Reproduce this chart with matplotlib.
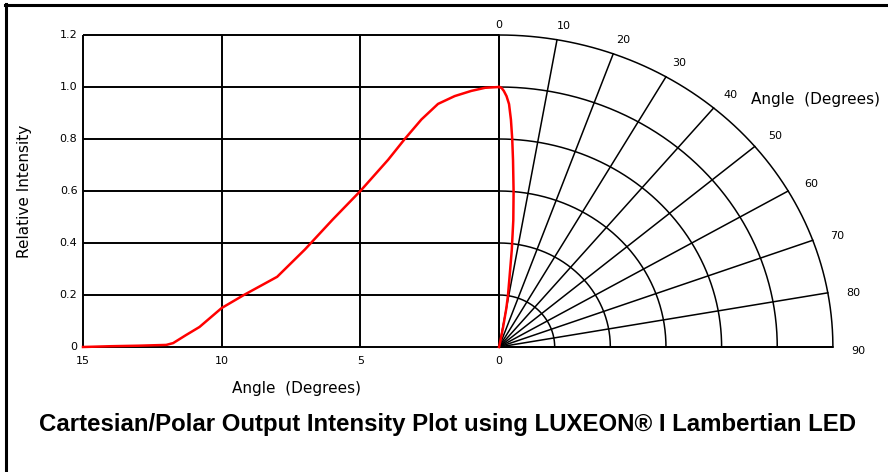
import numpy as np
import matplotlib
matplotlib.use("Agg")
import matplotlib.pyplot as plt
from matplotlib.lines import Line2D

# ---- data ----
angles = [15, 14, 13, 12, 11.75, 11.3, 10.8, 10, 9.2, 8.0, 7.0, 6.0, 5.0, 4.0, 3.4, 2.8, 2.2, 1.6, 1.0, 0.5, 0]
intensity = [0, 0.003, 0.005, 0.008, 0.015, 0.045, 0.077, 0.15, 0.2, 0.27, 0.375, 0.49, 0.6,
             0.72, 0.8, 0.875, 0.935, 0.965, 0.985, 0.997, 1.0]
cart_xticks = [15, 10, 5, 0]
cart_yticks = [0, 0.2, 0.4, 0.6, 0.8, 1.0, 1.2]
cart_ylabels = ["0", "0.2", "0.4", "0.6", "0.8", "1.0", "1.2"]
polar_angles = [0, 10, 20, 30, 40, 50, 60, 70, 80, 90]
polar_radii = [0.2, 0.4, 0.6, 0.8, 1.0, 1.2]
title = "Cartesian/Polar Output Intensity Plot using LUXEON\u00ae I Lambertian LED"

# ---- style ----
W, H = 888, 472
PX = 10.03  # horizontal scale of polar part in x-axis units per unit radius
fig = plt.figure(figsize=(W / 100, H / 100), dpi=100)
ax = fig.add_axes([83 / W, 125 / H, 750 / W, 312 / H])
ax.set_xlim(-15, 12.04)
ax.set_ylim(0, 1.2)
ax.axis("off")

gk = dict(color="black", lw=1.4, solid_capstyle="butt", clip_on=False)
pk = dict(color="black", lw=1.1, clip_on=False)

# Cartesian grid
for y in cart_yticks:
    ax.plot([-15, 0], [y, y], **gk)
for x in cart_xticks:
    ax.plot([-x, -x], [0, 1.2], **gk)
ax.plot([0, 1.2 * PX], [0, 0], **gk)

# Polar grid
th = np.radians(np.linspace(0, 90, 200))
for r in polar_radii:
    ax.plot(r * np.sin(th) * PX, r * np.cos(th), **pk)
for a in polar_angles:
    t = np.radians(a)
    ax.plot([0, 1.2 * np.sin(t) * PX], [0, 1.2 * np.cos(t)], **pk)

# curves
ang = np.array(angles, dtype=float)
val = np.array(intensity, dtype=float)
ax.plot(-ang, val, color="#ff0000", lw=1.8, clip_on=False, zorder=5)
tr = np.radians(ang)
ax.plot(val * np.sin(tr) * PX, val * np.cos(tr), color="#ff0000", lw=1.8, clip_on=False, zorder=5)

# labels
fs = 8
for y, lab in zip(cart_yticks, cart_ylabels):
    ax.text(-15.2, y, lab, ha="right", va="center", fontsize=fs, clip_on=False)
for x in cart_xticks:
    ax.text(-x, -0.052, str(x), ha="center", va="center", fontsize=fs, clip_on=False)
for a in polar_angles:
    if a == 0:
        r, t = 1.24, 0.0
    else:
        t = np.radians(a + 0.7)
        r = 1.25 + 0.04 * np.sin(t)
    ax.text(r * np.sin(t) * PX, r * np.cos(t), str(a), ha="center", va="center", fontsize=fs, clip_on=False)

ax.text(-7.3, -0.158, "Angle  (Degrees)", ha="center", va="center", fontsize=11, clip_on=False)
ax.text(9.1, 0.952, "Angle  (Degrees)", ha="left", va="center", fontsize=11, clip_on=False)
fig.text(25 / W, 1 - 191 / H, "Relative Intensity", rotation=90, ha="center", va="center", fontsize=11)

fig.text(448 / W, 1 - 425 / H, title, ha="center", va="center", fontsize=17.3,
         fontweight="bold", family="Liberation Sans")

# frame lines
fig.add_artist(Line2D([6 / W, 6 / W], [0, 1 - 4 / H], color="black", lw=2.2, transform=fig.transFigure))
fig.add_artist(Line2D([5 / W, 1], [1 - 5 / H, 1 - 5 / H], color="black", lw=2.2, transform=fig.transFigure))

fig.savefig("out.png", dpi=100)
